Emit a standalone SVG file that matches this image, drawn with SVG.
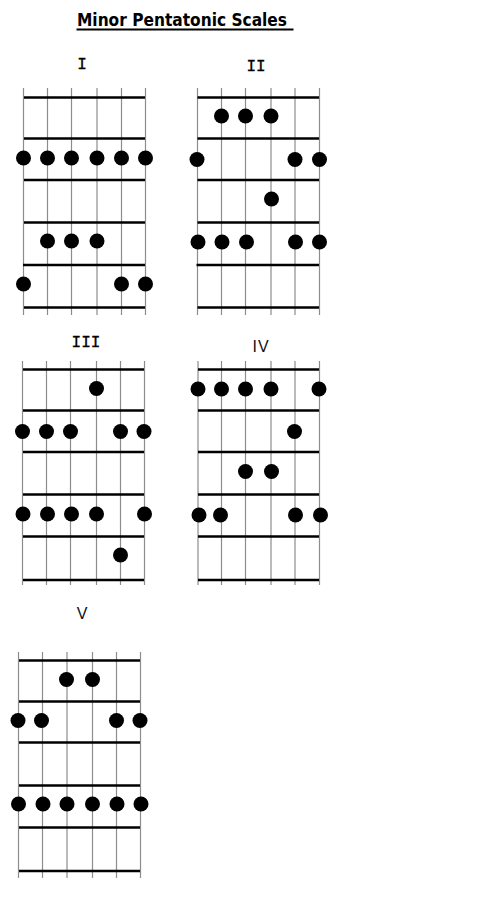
<svg xmlns="http://www.w3.org/2000/svg" width="487" height="905" viewBox="0 0 487 905">
<style>
.str{stroke:#8c8c8c;stroke-width:1.2}
.fret{stroke:#000;stroke-width:2.4}
.dot{fill:#000}
.mono{font-family:"Liberation Mono","DejaVu Sans Mono",monospace;font-size:16px;fill:#000;stroke:#000;stroke-width:0.3;text-anchor:middle}
.sans{font-family:"Liberation Sans","DejaVu Sans",sans-serif;font-size:16px;fill:#111;text-anchor:middle}
</style>
<rect x="0" y="0" width="487" height="905" fill="#fff"/>
<g id="title">
<text x="77" y="26" font-family="'Comic Sans MS','DejaVu Sans',sans-serif" font-weight="bold" font-size="17.5" textLength="210" lengthAdjust="spacingAndGlyphs" fill="#000">Minor Pentatonic Scales</text>
<line x1="76.5" y1="29.5" x2="293.5" y2="29.5" stroke="#000" stroke-width="2"/>
</g>

<g id="scale-I">
<text class="mono" x="82" y="69">I</text>
<g class="str">
<line x1="23.5" y1="88" x2="23.5" y2="315"/><line x1="47.5" y1="88" x2="47.5" y2="315"/><line x1="71.5" y1="88" x2="71.5" y2="315"/><line x1="97" y1="88" x2="97" y2="315"/><line x1="121.5" y1="88" x2="121.5" y2="315"/><line x1="145.5" y1="88" x2="145.5" y2="315"/>
</g>
<g class="fret">
<line x1="24" y1="97.5" x2="145" y2="97.5"/><line x1="24" y1="138.5" x2="145" y2="138.5"/><line x1="24" y1="180" x2="145" y2="180"/><line x1="24" y1="222.5" x2="145" y2="222.5"/><line x1="23" y1="265" x2="145" y2="265"/><line x1="24" y1="307.5" x2="145" y2="307.5"/>
</g>
<g class="dot">
<circle cx="23.5" cy="158" r="7.5"/><circle cx="47.5" cy="158" r="7.5"/><circle cx="71.5" cy="158" r="7.5"/><circle cx="97" cy="158" r="7.5"/><circle cx="121.5" cy="158" r="7.5"/><circle cx="145.5" cy="158" r="7.5"/>
<circle cx="47.5" cy="241" r="7.5"/><circle cx="71.5" cy="241" r="7.5"/><circle cx="97" cy="241" r="7.5"/>
<circle cx="23.5" cy="284" r="7.5"/><circle cx="121.5" cy="284" r="7.5"/><circle cx="145.5" cy="284" r="7.5"/>
</g>
</g>

<g id="scale-II">
<text class="mono" x="256" y="71">II</text>
<g class="str">
<line x1="197.5" y1="88" x2="197.5" y2="315"/><line x1="221.5" y1="88" x2="221.5" y2="315"/><line x1="245.5" y1="88" x2="245.5" y2="315"/><line x1="271" y1="88" x2="271" y2="315"/><line x1="295" y1="88" x2="295" y2="315"/><line x1="319.5" y1="88" x2="319.5" y2="315"/>
</g>
<g class="fret">
<line x1="197.5" y1="97.5" x2="319" y2="97.5"/><line x1="197.5" y1="138.5" x2="319" y2="138.5"/><line x1="197.5" y1="180" x2="319" y2="180"/><line x1="197.5" y1="222.5" x2="319" y2="222.5"/><line x1="196.5" y1="265" x2="319" y2="265"/><line x1="197.5" y1="307.5" x2="319" y2="307.5"/>
</g>
<g class="dot">
<circle cx="221.5" cy="116" r="7.5"/><circle cx="245.5" cy="116" r="7.5"/><circle cx="271" cy="116" r="7.5"/>
<circle cx="197" cy="159.5" r="7.5"/><circle cx="295" cy="159.5" r="7.5"/><circle cx="319.5" cy="159.5" r="7.5"/>
<circle cx="271.5" cy="199" r="7.5"/>
<circle cx="198" cy="242" r="7.5"/><circle cx="222" cy="242" r="7.5"/><circle cx="246.5" cy="242" r="7.5"/><circle cx="295.5" cy="242" r="7.5"/><circle cx="319.5" cy="242" r="7.5"/>
</g>
</g>

<g id="scale-III">
<text class="mono" x="86" y="347">III</text>
<g class="str">
<line x1="22.5" y1="361" x2="22.5" y2="585"/><line x1="46.5" y1="361" x2="46.5" y2="585"/><line x1="70.5" y1="361" x2="70.5" y2="585"/><line x1="96.5" y1="361" x2="96.5" y2="585"/><line x1="120.5" y1="361" x2="120.5" y2="585"/><line x1="144.5" y1="361" x2="144.5" y2="585"/>
</g>
<g class="fret">
<line x1="23" y1="369.5" x2="144" y2="369.5"/><line x1="23" y1="410.5" x2="144" y2="410.5"/><line x1="23" y1="452" x2="144" y2="452"/><line x1="23" y1="494.5" x2="144" y2="494.5"/><line x1="23" y1="536.5" x2="144" y2="536.5"/><line x1="23" y1="580" x2="144" y2="580"/>
</g>
<g class="dot">
<circle cx="96.5" cy="388.5" r="7.5"/>
<circle cx="22.5" cy="431.5" r="7.5"/><circle cx="46.5" cy="431.5" r="7.5"/><circle cx="70.5" cy="431.5" r="7.5"/><circle cx="120.5" cy="431.5" r="7.5"/><circle cx="144" cy="431.5" r="7.5"/>
<circle cx="23" cy="514" r="7.5"/><circle cx="47.5" cy="514" r="7.5"/><circle cx="71.5" cy="514" r="7.5"/><circle cx="96.5" cy="514" r="7.5"/><circle cx="144.5" cy="514" r="7.5"/>
<circle cx="120.5" cy="555" r="7.5"/>
</g>
</g>

<g id="scale-IV">
<text class="sans" x="261" y="351.5" letter-spacing="1">IV</text>
<g class="str">
<line x1="198" y1="361" x2="198" y2="585"/><line x1="221.5" y1="361" x2="221.5" y2="585"/><line x1="245.5" y1="361" x2="245.5" y2="585"/><line x1="271" y1="361" x2="271" y2="585"/><line x1="295" y1="361" x2="295" y2="585"/><line x1="319.5" y1="361" x2="319.5" y2="585"/>
</g>
<g class="fret">
<line x1="198" y1="369.5" x2="319" y2="369.5"/><line x1="198" y1="410.5" x2="319" y2="410.5"/><line x1="198" y1="452" x2="319" y2="452"/><line x1="198" y1="494.5" x2="319" y2="494.5"/><line x1="198" y1="536.5" x2="319" y2="536.5"/><line x1="198" y1="580" x2="319" y2="580"/>
</g>
<g class="dot">
<circle cx="198" cy="389" r="7.5"/><circle cx="221.5" cy="389" r="7.5"/><circle cx="245.5" cy="389" r="7.5"/><circle cx="271" cy="389" r="7.5"/><circle cx="319" cy="389" r="7.5"/>
<circle cx="294.5" cy="431.5" r="7.5"/>
<circle cx="245.5" cy="471.5" r="7.5"/><circle cx="271.5" cy="471.5" r="7.5"/>
<circle cx="199" cy="515" r="7.5"/><circle cx="220.5" cy="515" r="7.5"/><circle cx="295.5" cy="515" r="7.5"/><circle cx="320.5" cy="515" r="7.5"/>
</g>
</g>

<g id="scale-V">
<text class="sans" x="82" y="619">V</text>
<g class="str">
<line x1="18.5" y1="652" x2="18.5" y2="878"/><line x1="42.5" y1="652" x2="42.5" y2="878"/><line x1="67" y1="652" x2="67" y2="878"/><line x1="92.5" y1="652" x2="92.5" y2="878"/><line x1="116.5" y1="652" x2="116.5" y2="878"/><line x1="140.5" y1="652" x2="140.5" y2="878"/>
</g>
<g class="fret">
<line x1="19" y1="660.5" x2="140" y2="660.5"/><line x1="19" y1="701.5" x2="140" y2="701.5"/><line x1="19" y1="742.5" x2="140" y2="742.5"/><line x1="19" y1="785.5" x2="140" y2="785.5"/><line x1="19" y1="827.5" x2="140" y2="827.5"/><line x1="19" y1="871" x2="140" y2="871"/>
</g>
<g class="dot">
<circle cx="66.5" cy="679.5" r="7.5"/><circle cx="92.5" cy="679.5" r="7.5"/>
<circle cx="18" cy="720.5" r="7.5"/><circle cx="41.5" cy="720.5" r="7.5"/><circle cx="116.5" cy="720.5" r="7.5"/><circle cx="140" cy="720.5" r="7.5"/>
<circle cx="18.5" cy="804" r="7.5"/><circle cx="43" cy="804" r="7.5"/><circle cx="67" cy="804" r="7.5"/><circle cx="92.5" cy="804" r="7.5"/><circle cx="117" cy="804" r="7.5"/><circle cx="141" cy="804" r="7.5"/>
</g>
</g>
</svg>
